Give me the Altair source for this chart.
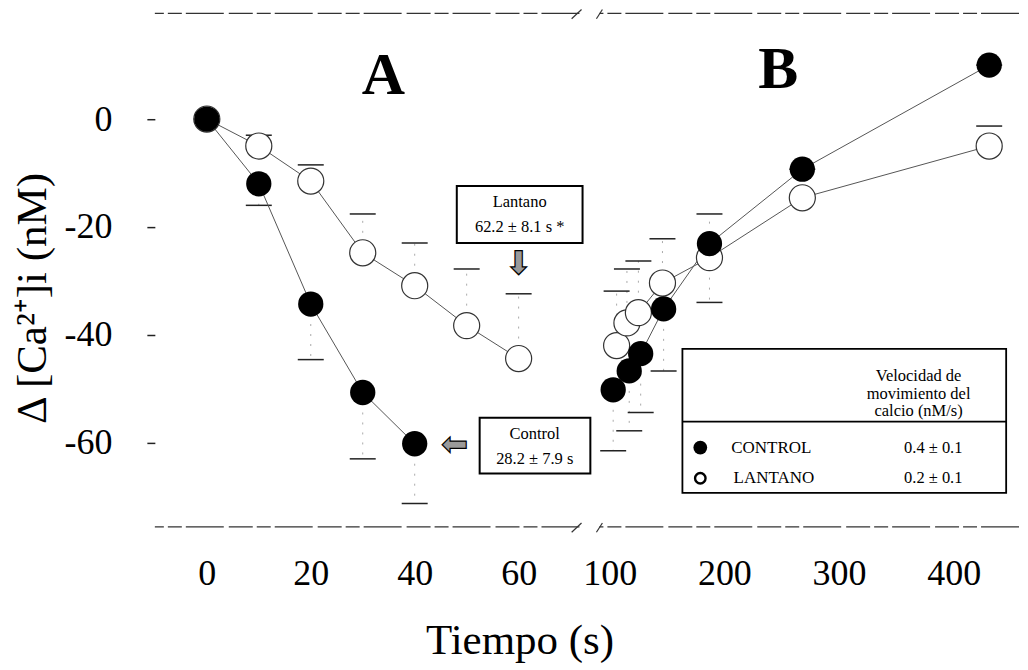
import altair as alt
import pandas as pd

# ---------------- data ----------------
# Panel A (0-60 s)
a_time_control = [0, 10, 20, 30, 40]
a_control = [0, -12.0, -34.3, -50.7, -60.2]
a_control_err = [0, -4.0, -10.3, -12.3, -11.1]

a_time_lantano = [0, 10, 20, 30, 40, 50, 60]
a_lantano = [0, -5.0, -11.5, -24.8, -30.9, -38.3, -44.4]
a_lantano_err = [0, 2.0, 3.0, 7.2, 7.9, 10.5, 12.0]

# Panel B (100-430 s)
b_time_control = [103, 117, 127, 147, 187, 268, 431]
b_control = [-50.2, -46.7, -43.5, -35.2, -23.1, -9.3, 10.0]
b_control_err = [-11.3, -11.1, -10.9, -11.5, 5.5, 0, 0]

b_time_lantano = [106, 115, 125, 146, 187, 268, 431]
b_lantano = [-42.0, -37.8, -35.9, -30.4, -25.7, -14.6, -5.0]
b_lantano_err = [10.1, 10.0, 9.6, 8.2, -8.3, 0, 3.7]

a_ticks = [0, 20, 40, 60]
b_ticks = [100, 200, 300, 400]
y_ticks = [0, -20, -40, -60]

legend_header = ["Velocidad de", "movimiento del", "calcio (nM/s)"]
legend_names = ["CONTROL", " LANTANO"]
legend_rates = ["0.4 ± 0.1", "0.2 ± 0.1"]

# ---------------- scales / layout ----------------
Y_DOM = [-75.6, 19.6]
A_DOM = [-10, 71.7]
B_DOM = [91, 457]
H = 514
WA, WB = 425, 420
SERIF = "Liberation Serif"


def series_df(t, v, e, name):
    return pd.DataFrame({"t": t, "v": v, "bar": [a + b for a, b in zip(v, e)],
                         "series": name})


dfA = pd.concat([series_df(a_time_control, a_control, a_control_err, "Control"),
                 series_df(a_time_lantano, a_lantano, a_lantano_err, "Lantano")])
dfB = pd.concat([series_df(b_time_control, b_control, b_control_err, "Control"),
                 series_df(b_time_lantano, b_lantano, b_lantano_err, "Lantano")])

y_axis = alt.Axis(values=y_ticks, labelExpr="datum.value + ''", grid=False, domain=False,
                  tickSize=8, tickWidth=1.5, tickColor="#222", labelPadding=35,
                  labelFont=SERIF, labelFontSize=36, labelColor="black",
                  title="Δ [Ca²⁺]i (nM)", titleFont=SERIF, titleFontSize=43,
                  titleFontWeight="normal", titleColor="black", titlePadding=9,
                  titleY=285)
y_scale = alt.Scale(domain=Y_DOM, nice=False, zero=False)


def yenc(field, axis):
    return alt.Y(field, scale=y_scale, axis=axis)


xA = alt.X("t:Q", scale=alt.Scale(domain=A_DOM, nice=False, zero=False),
           axis=alt.Axis(values=a_ticks, grid=False, domain=False, ticks=False, tickSize=0,
                         labelPadding=30, labelFont=SERIF, labelFontSize=36,
                         labelColor="black", labelExpr="datum.value + ''",
                         title="Tiempo (s)", titleFont=SERIF, titleFontSize=43,
                         titleFontWeight="normal", titleColor="black",
                         titleX=365, titlePadding=28))
xB = alt.X("t:Q", scale=alt.Scale(domain=B_DOM, nice=False, zero=False),
           axis=alt.Axis(values=b_ticks, grid=False, domain=False, ticks=False, tickSize=0,
                         labelPadding=30, labelFont=SERIF, labelFontSize=36,
                         labelColor="black", labelExpr="datum.value + ''", title=None))


def panel(df, x, yaxis, xmin, xmax, left_break, extra):
    y = yenc("v:Q", yaxis)
    frame = alt.Chart(pd.DataFrame({"v": Y_DOM})).mark_rule(
        color="#333", strokeWidth=1.3, strokeDash=[38, 4, 14, 4, 24, 5]).encode(y=y)
    if left_break:
        sl = pd.DataFrame({"t": [xmin - 2.6, xmin - 2.6], "t2": [xmin + 2.6, xmin + 2.6],
                           "v": [Y_DOM[0] - 1.0, Y_DOM[1] - 1.0],
                           "v2": [Y_DOM[0] + 0.7, Y_DOM[1] + 0.7]})
    else:
        sl = pd.DataFrame({"t": [xmax - 1.5, xmax - 1.5], "t2": [xmax + 0.4, xmax + 0.4],
                           "v": [Y_DOM[0] - 1.0, Y_DOM[1] - 1.0],
                           "v2": [Y_DOM[0] + 0.7, Y_DOM[1] + 0.7]})
    slashes = alt.Chart(sl).mark_rule(color="#333", strokeWidth=1.2).encode(
        x=x, x2="t2:Q", y=y, y2="v2:Q")
    base = alt.Chart(df)
    whisk = base.mark_rule(color="#aaa", strokeWidth=1, strokeDash=[2, 8]).encode(
        x=x, y=y, y2="bar:Q")
    caps = base.mark_tick(orient="horizontal", size=26, thickness=1.5, color="#222",
                          opacity=1).encode(x=x, y=yenc("bar:Q", yaxis))
    lines = base.mark_line(color="#555", strokeWidth=1).encode(
        x=x, y=y, detail="series:N", order="t:Q")
    opens = base.transform_filter(alt.datum.series == "Lantano").mark_point(
        shape="circle", size=680, filled=True, fill="white", stroke="#333",
        strokeWidth=1.2, opacity=1).encode(x=x, y=y)
    fills = base.transform_filter(alt.datum.series == "Control").mark_circle(
        size=640, color="black", opacity=1).encode(x=x, y=y)
    return alt.layer(frame, slashes, whisk, caps, lines, opens, fills, *extra(y))


def txt(df, x, y, size, weight="normal", font=SERIF, align="center", **kw):
    return alt.Chart(df).mark_text(font=font, fontSize=size, fontWeight=weight,
                                   align=align, baseline="middle", color="black",
                                   **kw).encode(x=x, y=y, text="label:N")


def arrow(df, x, y):
    return alt.Chart(df).mark_text(font="DejaVu Sans", fontSize=32, fill="#9a9a9a",
                                   stroke="black", strokeWidth=1.2, baseline="middle",
                                   align="center").encode(x=x, y=y, text="label:N")


def box(x0, x1, y0, y1, x, y, sw=2):
    return alt.Chart(pd.DataFrame({"t": [x0], "t2": [x1], "v": [y0], "v2": [y1]})).mark_rect(
        fill="white", stroke="black", strokeWidth=sw).encode(x=x, x2="t2:Q", y=y, y2="v2:Q")


def extraA(y):
    x = xA
    return [
        txt(pd.DataFrame({"t": [34], "v": [8], "label": ["A"]}), x, y, 60, "bold"),
        box(48.1, 72.3, -12.4, -23.0, x, y),
        txt(pd.DataFrame({"t": [60.2, 60.2], "v": [-15.3, -20.0],
                          "label": ["Lantano", "62.2 ± 8.1 s *"]}), x, y, 16.5),
        arrow(pd.DataFrame({"t": [60.0], "v": [-26.9], "label": ["⬇"]}), x, y),
        box(52.5, 73.8, -55.4, -65.7, x, y),
        txt(pd.DataFrame({"t": [63.1, 63.1], "v": [-58.4, -63.0],
                          "label": ["Control", "28.2 ± 7.9 s"]}), x, y, 16.5),
        arrow(pd.DataFrame({"t": [47.7], "v": [-60.4], "label": ["⬅"]}), x, y),
    ]


def extraB(y):
    x = xB
    return [
        txt(pd.DataFrame({"t": [247], "v": [9], "label": ["B"]}), x, y, 60, "bold"),
        box(163.4, 445.8, -42.6, -69.3, x, y, sw=1.8),
        alt.Chart(pd.DataFrame({"t": [163.4], "t2": [445.8], "v": [-56.1]})).mark_rule(
            color="black", strokeWidth=1.8).encode(x=x, x2="t2:Q", y=y),
        txt(pd.DataFrame({"t": [369.4] * 3, "v": [-47.6, -50.9, -54.1],
                          "label": legend_header}), x, y, 16.5),
        txt(pd.DataFrame({"t": [206, 208], "v": [-60.9, -66.6],
                          "label": legend_names}), x, y, 17, align="left"),
        txt(pd.DataFrame({"t": [382.2, 382.2], "v": [-60.9, -66.6],
                          "label": legend_rates}), x, y, 16.5),
        alt.Chart(pd.DataFrame({"t": [179], "v": [-60.9]})).mark_circle(
            size=190, color="black", opacity=1).encode(x=x, y=y),
        alt.Chart(pd.DataFrame({"t": [179], "v": [-66.6]})).mark_point(
            shape="circle", size=110, filled=False, color="black", strokeWidth=2.4,
            opacity=1).encode(x=x, y=y),
    ]


chartA = panel(dfA, xA, y_axis, A_DOM[0], A_DOM[1], False, extraA).properties(
    width=WA, height=H)
chartB = panel(dfB, xB, None, B_DOM[0], B_DOM[1], True, extraB).properties(
    width=WB, height=H)

chart = alt.hconcat(chartA, chartB, spacing=20, bounds="flush",
                    padding={"left": 4, "top": 0, "right": 0, "bottom": 0}).configure_view(
    stroke=None)

chart.save("out.html", embed_options={"renderer": "svg", "actions": False})
